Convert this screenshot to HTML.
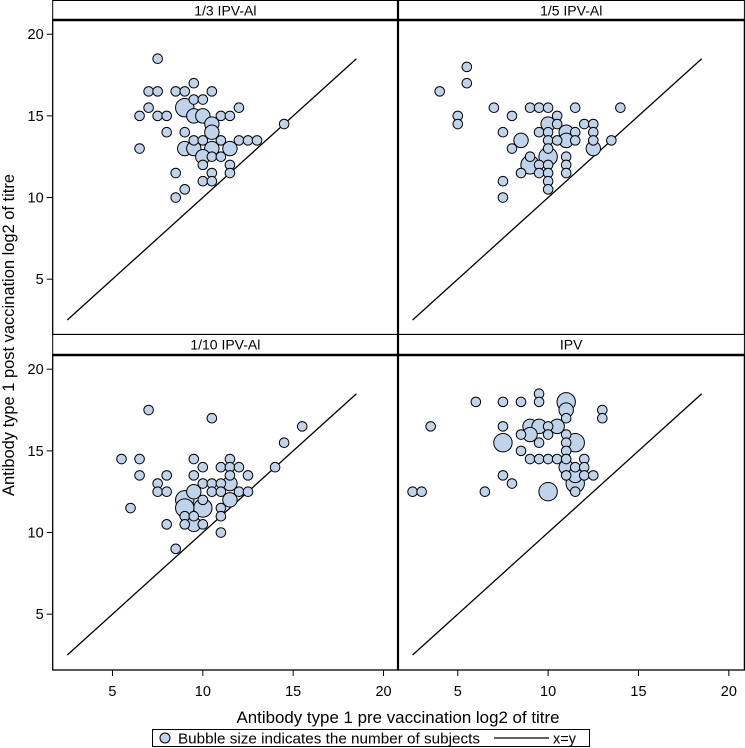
<!DOCTYPE html>
<html><head><meta charset="utf-8"><style>
html,body{margin:0;padding:0;background:#fff;width:745px;height:748px;overflow:hidden}
svg{display:block;font-family:"Liberation Sans",Arial,sans-serif}
</style></head><body>
<svg id="chart" width="745" height="748" viewBox="0 0 745 748">
<g id="frames"></g>
<g id="marks"></g>
<text x="14" y="335" transform="rotate(-90 14 335)" text-anchor="middle" font-size="16.5" textLength="322" lengthAdjust="spacingAndGlyphs">Antibody type 1 post vaccination log2 of titre</text>
<text x="398" y="723" text-anchor="middle" font-size="16.5" textLength="323" lengthAdjust="spacingAndGlyphs">Antibody type 1 pre vaccination log2 of titre</text>
<g>
<rect x="152.5" y="729.5" width="437" height="17" fill="#fff" stroke="#000" stroke-width="1"/>
<circle cx="165" cy="738" r="5" fill="#bfd3ea" stroke="#000" stroke-width="1"/>
<text x="178" y="743.5" font-size="14.5" textLength="302" lengthAdjust="spacingAndGlyphs">Bubble size indicates the number of subjects</text>
<line x1="494" y1="738" x2="549" y2="738" stroke="#000" stroke-width="1.2"/>
<text x="553" y="743.5" font-size="14.5">x=y</text>
</g>
</svg>
<script>
const panelTitles = ["1/3 IPV-Al","1/5 IPV-Al","1/10 IPV-Al","IPV"];
const xTicks = [5,10,15,20];
const yTicks = [5,10,15,20];
// each panel: pre-vaccination x, post-vaccination y, bubble size category
const p1x = [7.5,7,7.5,8.5,9,10.5,9.5,9.5,10,7,12,6.5,7.5,8,11,11.5,9,9.5,10,10.5,8,9,9.5,10,10.5,11,12,12.5,13,9,9.5,10.5,11.5,10,10.5,11,10,11.5,8.5,10.5,11.5,10,10.5,9,8.5,6.5,14.5];
const p1y = [18.5,16.5,16.5,16.5,16.5,16.5,17,16,16,15.5,15.5,15,15,15,15,15,15.5,15,15,14.5,14,14,13.5,13.5,14,13.5,13.5,13.5,13.5,13,13,13,13,12.5,12.5,12.5,12,12,11.5,11.5,11.5,11,11,10.5,10,13,14.5];
const p1s = [1,1,1,1,1,1,1,1,1,1,1,1,1,1,1,1,3,2,2,2,1,1,1,1,2,1,1,1,1,2,2,2,2,2,1,1,1,1,1,1,1,1,1,1,1,1,1];
const p2x = [5.5,5.5,4,5,5,7,8,7.5,8.5,8,7.5,7.5,9,9.5,10,11.5,14,10.5,10,10.5,12,12.5,9.5,10,11,11.5,12.5,10,10.5,11,11.5,12.5,13.5,10,12.5,9,10,11,9,9.5,10,11,8.5,9.5,10,11,10,10];
const p2y = [18,17,16.5,15,14.5,15.5,15,14,13.5,13,11,10,15.5,15.5,15.5,15.5,15.5,15,14.5,14.5,14.5,14.5,14,14,14,14,14,13.5,13.5,13.5,13.5,13.5,13.5,13,13,12.5,12.5,12.5,12,12,12,12,11.5,11.5,11.5,11.5,11,10.5];
const p2s = [1,1,1,1,1,1,1,1,2,1,1,1,1,1,1,1,1,1,2,1,1,1,1,1,2,1,1,1,1,2,1,1,1,1,2,1,3,1,3,1,1,1,1,1,1,1,1,1];
const p3x = [7,10.5,15.5,14.5,14,5.5,6.5,6.5,7.5,7.5,8,8,6,8,8.5,9.5,10,9.5,10,10.5,10.5,9.5,9,10,10,9,9,9.5,9,9.5,10,11,11.5,11.5,12,11.5,12.5,11,11.5,11,12,12.5,11.5,11,11,11];
const p3y = [17.5,17,16.5,15.5,14,14.5,14.5,13.5,13,12.5,13.5,12.5,11.5,10.5,9,14.5,14,13.5,13,13,12.5,12.5,12,12,11.5,11.5,11,11,10.5,10.5,10.5,14,14.5,14,14,13.5,13.5,13,13,12.5,12.5,12.5,12,11.5,11,10];
const p3s = [1,1,1,1,1,1,1,1,1,1,1,1,1,1,1,1,1,1,1,1,1,2,3,1,3,3,1,1,1,2,1,1,1,1,1,1,1,1,2,1,1,1,2,1,1,1];
const p4x = [9.5,9.5,6,7.5,8.5,11,11,13,13,11,3.5,7.5,9,9.5,10,10.5,8.5,9,10,11,7.5,9.5,11,11.5,8.5,11,9,9.5,10,10.5,11,12,11,11.5,12,7.5,11,12,12.5,11.5,8,11.5,2.5,3,6.5,10,11.5];
const p4y = [18.5,18,18,18,18,18,17.5,17.5,17,17,16.5,16.5,16.5,16.5,16.5,16.5,16,16,16,16,15.5,15.5,15.5,15.5,15,15,14.5,14.5,14.5,14.5,14.5,14.5,14,14,14,13.5,13.5,13.5,13.5,13.5,13,13,12.5,12.5,12.5,12.5,12.5];
const p4s = [1,1,1,1,1,3,2,1,1,1,1,1,2,2,1,2,1,2,1,1,3,1,1,3,1,1,1,1,1,1,1,1,2,1,1,1,1,1,1,2,1,3,1,1,1,3,1,1];
const panelX = [p1x,p2x,p3x,p4x], panelY = [p1y,p2y,p3y,p4y], panelS = [p1s,p2s,p3s,p4s];

const NS = "http://www.w3.org/2000/svg";
const frames = document.getElementById('frames'), marks = document.getElementById('marks');
const colX = [52.7, 398];
const colW = [345.3, 346.4];
const headerTop = [0.5, 334.5], plotTop = [20, 355], plotBot = [334.5, 670];
function xScale(c, v){ return colX[c] + 14.6 + (v-2.5)*18.07; }
function yScale(r, v){ return (r===0 ? 320 : 655) - (v-2.5)*16.33; }
function mk(tag, attrs, parent){ const e=document.createElementNS(NS,tag); for(const k in attrs) e.setAttribute(k, attrs[k]); parent.appendChild(e); return e; }
const rad = [0, 4.8, 7.2, 9.2];

for(let p=0;p<4;p++){
  const c=p%2, r=Math.floor(p/2);
  const x0=colX[c], w=colW[c];
  const hdr = mk('rect',{x:x0,y:headerTop[r],width:w,height:plotTop[r]-headerTop[r],fill:'#fff',stroke:'#000','stroke-width':1},frames);
  
  
  const t = mk('text',{x:x0+w/2,y:headerTop[r]+15,'text-anchor':'middle','font-size':14},frames);
  t.textContent = panelTitles[p];
  
  
  const box = mk('rect',{x:x0,y:plotTop[r],width:w,height:plotBot[r]-plotTop[r],fill:'none',stroke:'#000','stroke-width':1.3},frames);
  
  
  mk('line',{x1:x0,y1:plotTop[r],x2:x0+w,y2:plotTop[r],stroke:'#000','stroke-width':2.5},frames);
  if(c===0){
    yTicks.forEach(v=>{
      const y=yScale(r,v);
      mk('line',{x1:x0-6,y1:y,x2:x0,y2:y,stroke:'#000','stroke-width':1},frames);
      const tl=mk('text',{x:x0-9,y:y+5,'text-anchor':'end','font-size':14.5},frames);
      tl.textContent=v;
      
      
    });
  }
  if(r===1){
    xTicks.forEach(v=>{
      const x=xScale(c,v);
      mk('line',{x1:x,y1:670,x2:x,y2:676,stroke:'#000','stroke-width':1},frames);
      const tl=mk('text',{x:x,y:696,'text-anchor':'middle','font-size':14.5},frames);
      tl.textContent=v;
      
      
    });
  }
  const ln = mk('line',{x1:xScale(c,2.5),y1:yScale(r,2.5),x2:xScale(c,18.5),y2:yScale(r,18.5),stroke:'#000','stroke-width':1.3},marks);
  
  
  const xs=panelX[p], ys=panelY[p], ss=panelS[p];
  const order = xs.map((_,i)=>i).sort((a,b)=>ss[b]-ss[a]);
  order.forEach(i=>{
    const b = mk('circle',{cx:xScale(c,xs[i]),cy:yScale(r,ys[i]),r:rad[ss[i]],fill:'#bfd3ea',stroke:'#000','stroke-width':1},marks);
    
    
  });
}
mk('line',{x1:398,y1:0,x2:398,y2:670,stroke:'#000','stroke-width':2.2},frames);
</script>
</body></html>
